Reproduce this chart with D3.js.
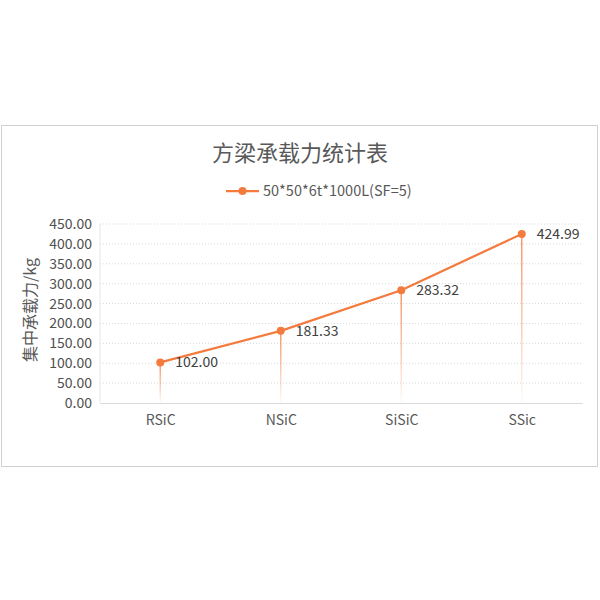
<!DOCTYPE html>
<html>
<head>
<meta charset="utf-8">
<script src="https://cdn.jsdelivr.net/npm/d3@7"></script>
<style>
  body { margin: 0; background: #fff; }
  svg text { font-family: "Noto Sans CJK SC", "Open Sans", sans-serif; }
</style>
</head>
<body>
<script>
// values
const categories = ["RSiC", "NSiC", "SiSiC", "SSic"];
const loads = [102.00, 181.33, 283.32, 424.99];
const yTicks = [0, 50, 100, 150, 200, 250, 300, 350, 400, 450];
const seriesName = "50*50*6t*1000L(SF=5)";
const chartTitle = "方梁承载力统计表";
const yTitle = "集中承载力/kg";

const width = 600, height = 600;
const orange = "#F47A3E";
const textColor = "#595959";

const svg = d3.select("body").append("svg")
  .attr("width", width)
  .attr("height", height);

// outer chart frame
svg.append("rect")
  .attr("x", 1.5).attr("y", 125.5)
  .attr("width", 596).attr("height", 341)
  .attr("fill", "#fff")
  .attr("stroke", "#d0d0d0");

const plot = { left: 100, right: 582, top: 224, bottom: 403 };

const x = d3.scalePoint()
  .domain(categories)
  .range([plot.left, plot.right])
  .padding(0.5);

const y = d3.scaleLinear()
  .domain([0, 450])
  .range([plot.bottom, plot.top]);

// gridlines
svg.append("g")
  .selectAll("line")
  .data(yTicks.filter(d => d > 0))
  .enter()
  .append("line")
  .attr("x1", plot.left).attr("x2", plot.right)
  .attr("y1", d => y(d)).attr("y2", d => y(d))
  .attr("stroke", "#d9d9d9")
  .attr("stroke-dasharray", "1,2");

// y axis labels
const yAxis = d3.axisLeft(y)
  .tickValues(yTicks)
  .tickFormat(d3.format(".2f"))
  .tickSize(0)
  .tickPadding(8);

svg.append("g")
  .attr("transform", `translate(${plot.left},0)`)
  .call(yAxis)
  .call(g => g.select(".domain").remove())
  .selectAll("text")
  .attr("font-size", 14)
  .attr("fill", "#505050")
  .attr("font-family", "'Open Sans', sans-serif");

// left axis line (light)
svg.append("line")
  .attr("x1", plot.left).attr("x2", plot.left)
  .attr("y1", plot.top).attr("y2", plot.bottom)
  .attr("stroke", "#e6e6e6");

// x axis
const xAxis = d3.axisBottom(x).tickSize(0).tickPadding(12);
svg.append("g")
  .attr("transform", `translate(0,${plot.bottom})`)
  .call(xAxis)
  .call(g => g.select(".domain").attr("stroke", "#d9d9d9"))
  .selectAll("text")
  .attr("font-size", 14)
  .attr("fill", textColor)
  .attr("font-family", "'Open Sans', sans-serif");

// gradient for drop lines
const defs = svg.append("defs");
const grad = defs.append("linearGradient")
  .attr("id", "dropGrad")
  .attr("x1", 0).attr("y1", 0).attr("x2", 0).attr("y2", 1);
grad.append("stop").attr("offset", "0%").attr("stop-color", orange).attr("stop-opacity", 0.8);
grad.append("stop").attr("offset", "100%").attr("stop-color", orange).attr("stop-opacity", 0.03);

const pts = categories.map((c, i) => ({ c: c, v: loads[i] }));

svg.append("g")
  .selectAll("rect")
  .data(pts)
  .enter()
  .append("rect")
  .attr("x", d => x(d.c) - 0.75)
  .attr("y", d => y(d.v))
  .attr("width", 1.5)
  .attr("height", d => plot.bottom - y(d.v))
  .attr("fill", "url(#dropGrad)");

// line
const line = d3.line()
  .x(d => x(d.c))
  .y(d => y(d.v));

svg.append("path")
  .datum(pts)
  .attr("d", line)
  .attr("fill", "none")
  .attr("stroke", orange)
  .attr("stroke-width", 2.25);

svg.append("g")
  .selectAll("circle")
  .data(pts)
  .enter()
  .append("circle")
  .attr("cx", d => x(d.c))
  .attr("cy", d => y(d.v))
  .attr("r", 4)
  .attr("fill", orange);

// data labels
svg.append("g")
  .selectAll("text")
  .data(pts)
  .enter()
  .append("text")
  .attr("x", d => x(d.c) + 15)
  .attr("y", d => y(d.v) + 5)
  .attr("font-size", 14)
  .attr("fill", "#404040")
  .attr("font-family", "'Open Sans', sans-serif")
  .text(d => d.v.toFixed(2));

// title
svg.append("text")
  .attr("x", 300).attr("y", 161)
  .attr("text-anchor", "middle")
  .attr("font-size", 22)
  .attr("fill", textColor)
  .text(chartTitle);

// legend
const leg = svg.append("g").attr("transform", "translate(226,191)");
leg.append("line")
  .attr("x1", 0).attr("x2", 33)
  .attr("stroke", orange).attr("stroke-width", 2.25);
leg.append("circle").attr("cx", 16.5).attr("r", 4).attr("fill", orange);
leg.append("text")
  .attr("x", 37).attr("y", 5)
  .attr("font-size", 14.5)
  .attr("fill", textColor)
  .attr("font-family", "'Open Sans', sans-serif")
  .text(seriesName);

// y title
svg.append("text")
  .attr("transform", `translate(36,310) rotate(-90)`)
  .attr("text-anchor", "middle")
  .attr("font-size", 16)
  .attr("fill", textColor)
  .text(yTitle);
</script>
</body>
</html>
